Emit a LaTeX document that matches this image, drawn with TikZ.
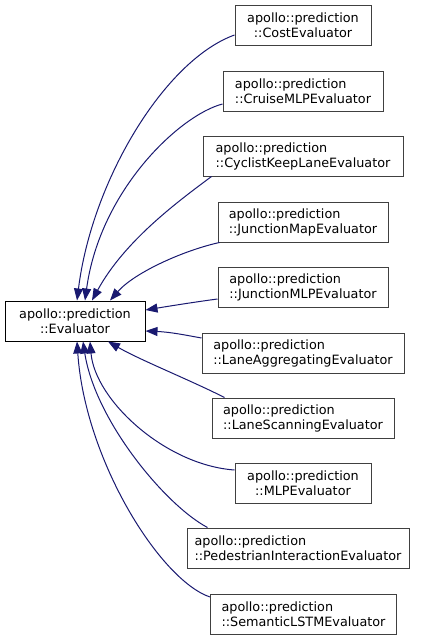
\documentclass[tikz,border=0pt]{standalone}
\usepackage{fontspec}
\setmainfont{DejaVu Sans}
\usepackage{xcolor}
\usepackage{tikz}
\usetikzlibrary{arrows.meta}
\definecolor{midnightblue}{HTML}{191970}
\definecolor{boxgray}{HTML}{404040}

\begin{document}
\begin{tikzpicture}[x=1pt, y=-1pt,
    cls/.style={draw=boxgray, line width=1pt, fill=white, minimum height=40pt, inner sep=0pt, font=\fontsize{12.8}{15}\selectfont},
    clsl/.style={cls, align=left},
    clsc/.style={cls, align=center},
    inh/.style={draw=midnightblue, line width=1pt, {Triangle[length=12pt,width=9pt]}-}]
    \useasboundingbox (0,0) rectangle (424,640);
    \node[clsc, draw=black, minimum width=140pt] (eval) at (75,321) {apollo::prediction\\::Evaluator};
    \node[clsc, minimum width=136pt] (cost) at (303,25.5) {apollo::prediction\\::CostEvaluator};
    \node[clsl, minimum width=160pt] (cruise) at (303,91) {apollo::prediction\\::CruiseMLPEvaluator};
    \node[clsl, minimum width=200pt] (cyclist) at (303,156) {apollo::prediction\\::CyclistKeepLaneEvaluator};
    \node[clsl, minimum width=170pt] (jmap) at (303,222) {apollo::prediction\\::JunctionMapEvaluator};
    \node[clsl, minimum width=170pt] (jmlp) at (303,287) {apollo::prediction\\::JunctionMLPEvaluator};
    \node[clsl, minimum width=202pt] (lagg) at (303,353) {apollo::prediction\\::LaneAggregatingEvaluator};
    \node[clsl, minimum width=182pt] (lscan) at (303,418) {apollo::prediction\\::LaneScanningEvaluator};
    \node[clsc, minimum width=136pt] (mlp) at (303,483) {apollo::prediction\\::MLPEvaluator};
    \node[clsl, minimum width=222pt] (ped) at (298,548) {apollo::prediction\\::PedestrianInteractionEvaluator};
    \node[clsl, minimum width=186pt] (sem) at (303.5,614) {apollo::prediction\\::SemanticLSTMEvaluator};
    \draw[inh] ([xshift=2pt]eval.north) .. controls (92,180) and (165,60) .. ([yshift=-9.5pt]cost.west);
    \draw[inh] ([xshift=10pt]eval.north) .. controls (100,190) and (180,115) .. ([yshift=-13pt]cruise.west);
    \draw[inh] ([xshift=17pt]eval.north) .. controls (125,240) and (180,200) .. ([xshift=9pt]cyclist.south west);
    \draw[inh] ([xshift=35pt]eval.north) .. controls (135,272) and (185,250) .. ([xshift=2pt]jmap.south west);
    \draw[inh] ([yshift=11pt]eval.east) .. controls (170,306) and (195,302) .. ([yshift=-12pt]jmlp.west);
    \draw[inh] ([yshift=-10pt]eval.east) .. controls (170,332) and (185,335) .. ([yshift=15pt]lagg.west);
    \draw[inh] ([xshift=33pt]eval.south) .. controls (140,360) and (190,380) .. ([xshift=13pt]lscan.north west);
    \draw[inh] ([xshift=15pt]eval.south) .. controls (95,400) and (165,465) .. ([yshift=13pt]mlp.west);
    \draw[inh] ([xshift=8pt]eval.south) .. controls (95,420) and (165,505) .. ([xshift=21pt]ped.north west);
    \draw[inh] ([xshift=2pt]eval.south) .. controls (85,460) and (160,580) .. ([yshift=17pt]sem.west);
\end{tikzpicture}
\end{document}
